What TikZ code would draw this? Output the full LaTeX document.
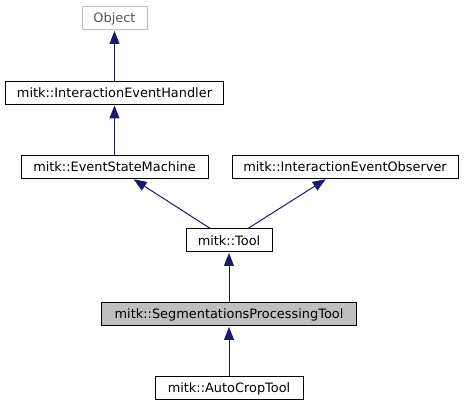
\documentclass[tikz,border=0pt]{standalone}
\usepackage{fontspec}
\setmainfont{DejaVu Sans}
\usetikzlibrary{arrows.meta}
\definecolor{edgeblue}{HTML}{191970}
\definecolor{grayborder}{HTML}{BFBFBF}
\definecolor{graytext}{HTML}{555555}
\definecolor{grayfill}{HTML}{BFBFBF}
\tikzset{
  cls/.style={draw=black, line width=1pt, fill=white, minimum height=23pt, inner sep=0pt, anchor=center,
    font=\fontsize{12.9}{14}\selectfont},
  ext/.style={cls, draw=grayborder, text=graytext},
  cur/.style={cls, fill=grayfill},
  inh/.style={draw=edgeblue, line width=1pt, -{Triangle[length=13pt,width=10pt]}, shorten >=0.5pt}
}
\begin{document}
\begin{tikzpicture}[x=1pt,y=-1pt]
\useasboundingbox (0,0) rectangle (464,411);
\node[ext, minimum width=65pt] (obj) at (114.5,18.5) {Object};
\node[cls, minimum width=218pt] (handler) at (114.5,93) {mitk::InteractionEventHandler};
\node[cls, minimum width=187pt] (esm) at (114.5,167) {mitk::EventStateMachine};
\node[cls, minimum width=226pt] (obs) at (345,167) {mitk::InteractionEventObserver};
\node[cls, minimum width=86pt] (tool) at (229,240.5) {mitk::Tool};
\node[cur, minimum width=255pt] (seg) at (229,314.5) {mitk::SegmentationsProcessingTool};
\node[cls, minimum width=148pt] (crop) at (229,388.5) {mitk::AutoCropTool};
\draw[inh] (handler) -- (obj);
\draw[inh] (esm) -- (handler);
\draw[inh] (tool) -- (esm);
\draw[inh] (tool) -- (obs);
\draw[inh] (seg) -- (tool);
\draw[inh] (crop) -- (seg);
\end{tikzpicture}
\end{document}
